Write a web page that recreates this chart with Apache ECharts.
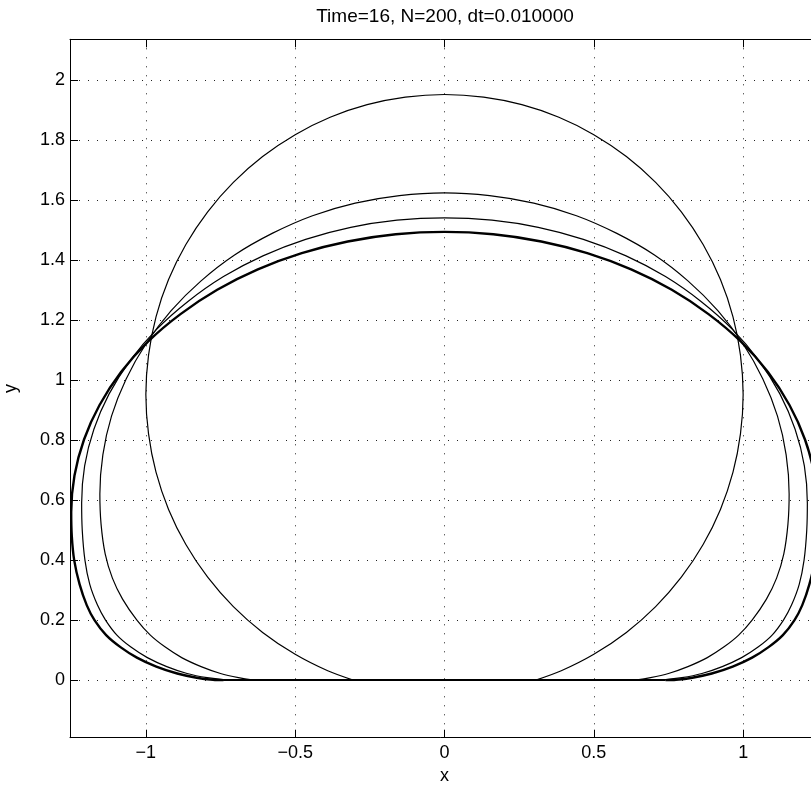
<!DOCTYPE html>
<html><head><meta charset="utf-8">
<script src="https://cdn.jsdelivr.net/npm/echarts@6/dist/echarts.min.js"></script>
<style>html,body{margin:0;padding:0;background:#fff}#c{width:811px;height:786px}</style>
</head><body><div id="c"></div>
<script>
const titleText = 'Time=16, N=200, dt=0.010000';
const xName = 'x';
const yName = 'y';
const xLimits = [-1.254, 1.254];
const yLimits = [-0.192, 2.136];
const xTicks = [-1, -0.5, 0, 0.5, 1];
const yTicks = [0, 0.2, 0.4, 0.6, 0.8, 1, 1.2, 1.4, 1.6, 1.8, 2];

// near-circular shape (largest height)
const curveA = [
  [-0.306,0.000],[-0.391,0.031],[-0.500,0.086],[-0.609,0.159],[-0.707,0.245],[-0.793,0.343],
  [-0.866,0.452],[-0.924,0.569],[-0.966,0.693],[-0.991,0.821],[-1.000,0.952],[-0.991,1.083],
  [-0.966,1.211],[-0.924,1.335],[-0.866,1.452],[-0.793,1.561],[-0.707,1.659],[-0.609,1.745],
  [-0.500,1.818],[-0.383,1.876],[-0.259,1.918],[-0.131,1.943],[0.000,1.952],
  [0.131,1.943],[0.259,1.918],[0.383,1.876],[0.500,1.818],[0.609,1.745],[0.707,1.659],
  [0.793,1.561],[0.866,1.452],[0.924,1.335],[0.966,1.211],[0.991,1.083],[1.000,0.952],
  [0.991,0.821],[0.966,0.693],[0.924,0.569],[0.866,0.452],[0.793,0.343],[0.707,0.245],
  [0.609,0.159],[0.500,0.086],[0.391,0.031],[0.306,0.000]
];
// shape with top near 1.62
const curveB = [
  [-0.620,0.000],[-0.645,0.001],[-0.690,0.008],[-0.750,0.022],[-0.815,0.045],[-0.880,0.075],
  [-0.935,0.110],[-0.985,0.150],[-1.030,0.200],[-1.078,0.270],[-1.112,0.340],[-1.136,0.420],
  [-1.150,0.520],[-1.154,0.620],[-1.144,0.751],[-1.115,0.880],[-1.066,1.004],[-0.999,1.122],
  [-0.916,1.231],[-0.816,1.330],[-0.703,1.417],[-0.577,1.489],[-0.442,1.548],[-0.299,1.590],
  [-0.151,1.615],[0.000,1.624],
  [0.151,1.615],[0.299,1.590],[0.442,1.548],[0.577,1.489],[0.703,1.417],[0.816,1.330],
  [0.916,1.231],[0.999,1.122],[1.066,1.004],[1.115,0.880],[1.144,0.751],[1.154,0.620],
  [1.150,0.520],[1.136,0.420],[1.112,0.340],[1.078,0.270],[1.030,0.200],[0.985,0.150],
  [0.935,0.110],[0.880,0.075],[0.815,0.045],[0.750,0.022],[0.690,0.008],[0.645,0.001],[0.620,0.000]
];
// shape with top near 1.54
const curveC = [
  [-0.700,0.000],[-0.735,0.001],[-0.795,0.008],[-0.862,0.022],[-0.930,0.045],[-0.995,0.075],
  [-1.050,0.110],[-1.097,0.150],[-1.135,0.200],[-1.162,0.250],[-1.188,0.320],[-1.204,0.400],
  [-1.213,0.500],[-1.215,0.590],[-1.205,0.714],[-1.174,0.836],[-1.123,0.954],[-1.052,1.066],
  [-0.964,1.169],[-0.859,1.262],[-0.740,1.345],[-0.608,1.414],[-0.465,1.469],[-0.314,1.509],
  [-0.159,1.533],[0.000,1.541],
  [0.159,1.533],[0.314,1.509],[0.465,1.469],[0.608,1.414],[0.740,1.345],[0.859,1.262],
  [0.964,1.169],[1.052,1.066],[1.123,0.954],[1.174,0.836],[1.205,0.714],[1.215,0.590],
  [1.213,0.500],[1.204,0.400],[1.188,0.320],[1.162,0.250],[1.135,0.200],[1.097,0.150],
  [1.050,0.110],[0.995,0.075],[0.930,0.045],[0.862,0.022],[0.795,0.008],[0.735,0.001],[0.700,0.000]
];
// final (thick) shape, top near 1.49
const curveD = [
  [-0.740,0.000],[-0.775,0.001],[-0.830,0.008],[-0.895,0.022],[-0.965,0.045],[-1.030,0.075],
  [-1.085,0.110],[-1.133,0.150],[-1.172,0.200],[-1.198,0.250],[-1.222,0.320],[-1.240,0.400],
  [-1.248,0.480],[-1.250,0.560],[-1.239,0.682],[-1.207,0.802],[-1.155,0.917],[-1.083,1.027],
  [-0.992,1.129],[-0.884,1.220],[-0.761,1.301],[-0.625,1.369],[-0.478,1.423],[-0.324,1.462],
  [-0.163,1.486],[0.000,1.494],
  [0.163,1.486],[0.324,1.462],[0.478,1.423],[0.625,1.369],[0.761,1.301],[0.884,1.220],
  [0.992,1.129],[1.083,1.027],[1.155,0.917],[1.207,0.802],[1.239,0.682],[1.250,0.560],
  [1.248,0.480],[1.240,0.400],[1.222,0.320],[1.198,0.250],[1.172,0.200],[1.133,0.150],
  [1.085,0.110],[1.030,0.075],[0.965,0.045],[0.895,0.022],[0.830,0.008],[0.775,0.001],[0.740,0.000]
];
// flat wetted base on y = 0
const baseLine = [[-0.740,0.000],[0.740,0.000]];

const FONT = '"Liberation Sans", Arial, Helvetica, sans-serif';
const fmt = (ticks) => (v) => {
  const hit = ticks.find(t => Math.abs(t - v) < 1e-6);
  return hit === undefined ? '' : String(hit).replace('-', '\u2212');
};
const splitStyle = {show: true, lineStyle: {color: '#222', width: 1, type: [1, 8]}};
const lineAx = {show: true, onZero: false, lineStyle: {color: '#000', width: 1}};
const tickIn = {show: true, inside: true, length: 8, lineStyle: {color: '#000', width: 1}};

const chart = echarts.init(document.getElementById('c'), null, {renderer: 'canvas'});
const mk = (data, w) => ({
  type: 'line', data: data, xAxisIndex: 0, yAxisIndex: 0,
  showSymbol: false, symbol: 'none', smooth: 0.3, animation: false,
  lineStyle: {color: '#000', width: w}, z: 5
});
chart.setOption({
  animation: false,
  backgroundColor: '#fff',
  title: {
    text: titleText, left: 445, top: 7, textAlign: 'center', padding: 0,
    textStyle: {fontSize: 19, fontWeight: 'normal', color: '#000', fontFamily: FONT}
  },
  grid: {left: 70, right: -8, top: 39.3, bottom: 48.3, containLabel: false, outerBoundsMode: 'none'},
  xAxis: [{
    type: 'value', position: 'bottom', min: xLimits[0], max: xLimits[1],
    splitNumber: 5, minInterval: 0.5, maxInterval: 0.5,
    name: xName, nameLocation: 'middle', nameGap: 29,
    nameTextStyle: {fontSize: 18, color: '#000', fontFamily: FONT},
    axisLine: lineAx, axisTick: tickIn, splitLine: splitStyle,
    axisLabel: {show: true, margin: 6, fontSize: 18, color: '#000', fontFamily: FONT,
      showMinLabel: false, showMaxLabel: false, formatter: fmt(xTicks)}
  }, {
    type: 'value', position: 'top', min: xLimits[0], max: xLimits[1],
    splitNumber: 5, minInterval: 0.5, maxInterval: 0.5,
    axisLine: lineAx, axisTick: tickIn, splitLine: {show: false}, axisLabel: {show: false}
  }],
  yAxis: [{
    type: 'value', position: 'left', min: yLimits[0], max: yLimits[1],
    splitNumber: 10, minInterval: 0.2, maxInterval: 0.2,
    name: yName, nameLocation: 'middle', nameGap: 50,
    nameTextStyle: {fontSize: 18, color: '#000', fontFamily: FONT},
    axisLine: lineAx, axisTick: tickIn, splitLine: splitStyle,
    axisLabel: {show: true, margin: 5, fontSize: 18, color: '#000', fontFamily: FONT,
      showMinLabel: false, showMaxLabel: false, formatter: fmt(yTicks)}
  }, {
    type: 'value', position: 'right', min: yLimits[0], max: yLimits[1],
    splitNumber: 10, minInterval: 0.2, maxInterval: 0.2,
    axisLine: lineAx, axisTick: tickIn, splitLine: {show: false}, axisLabel: {show: false}
  }],
  series: [
    mk(baseLine, 2),
    mk(curveA, 1.2),
    mk(curveB, 1.2),
    mk(curveC, 1.2),
    mk(curveD, 2.4)
  ]
});
</script></body></html>
